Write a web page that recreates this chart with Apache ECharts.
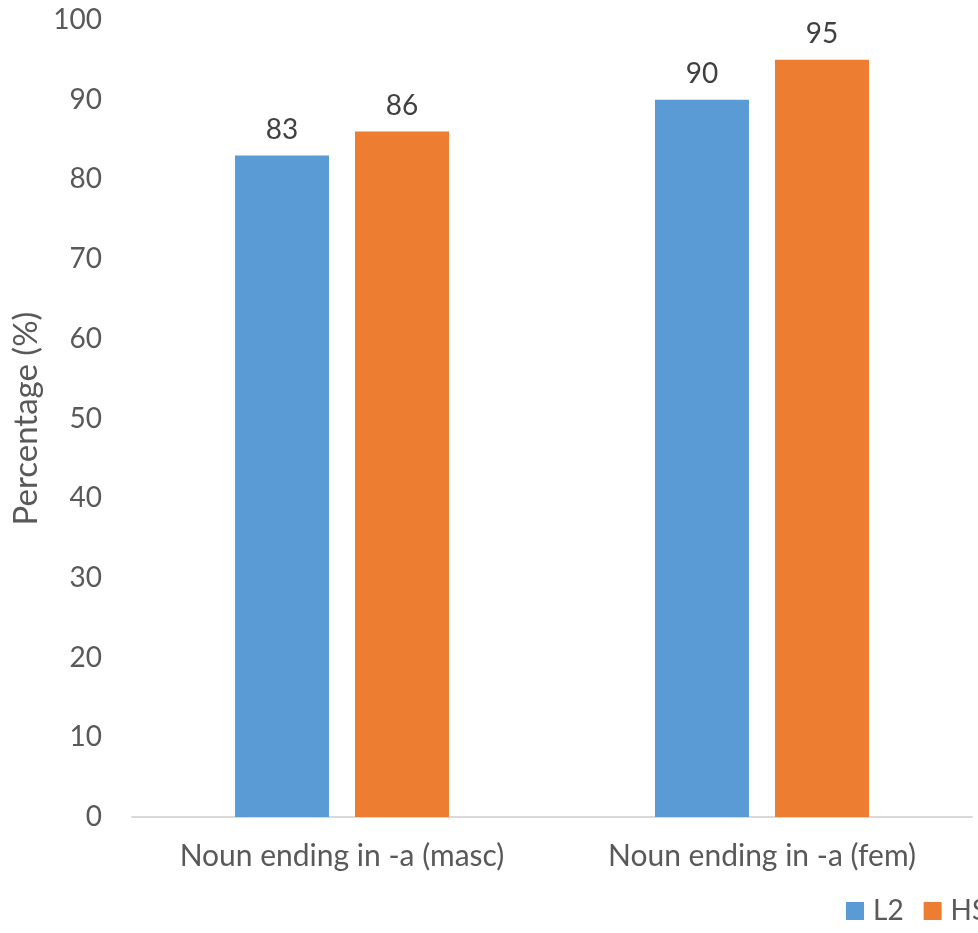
<!DOCTYPE html>
<html>
<head>
<meta charset="utf-8">
<script src="https://cdn.jsdelivr.net/npm/echarts@6/dist/echarts.min.js"></script>
<style>html,body{margin:0;padding:0;background:#fff}#c{width:978px;height:933px}</style>
</head>
<body>
<div id="c"></div>
<script>
var categories = ["Noun ending in -a (masc)", "Noun ending in -a (fem)"];
var seriesNames = ["L2", "HS"];
var l2Values = [83, 90];
var hsValues = [86, 95];
var yTicks = [0, 10, 20, 30, 40, 50, 60, 70, 80, 90, 100];

var FONT = "Lato";
var TXT = "#595959";
var FS = 28;
var chart = echarts.init(document.getElementById('c'));
chart.setOption({
  animation: false,
  textStyle: {fontFamily: FONT},
  grid: {left: 132, right: 6, top: 20, bottom: 116, containLabel: false},
  legend: {
    data: seriesNames, left: 846, top: 897, width: 400, itemWidth: 18, itemHeight: 18, itemGap: 20,
    icon: 'rect', padding: 0,
    textStyle: {color: TXT, fontSize: FS, fontFamily: FONT, padding: [0, 0, 0, 4]}
  },
  xAxis: {
    type: 'category', data: categories,
    axisLine: {lineStyle: {color: '#D9D9D9', width: 2}},
    axisTick: {show: false},
    axisLabel: {color: TXT, fontSize: 30, margin: 24, interval: 0, hideOverlap: false}
  },
  yAxis: {
    type: 'value', min: yTicks[0], max: yTicks[yTicks.length-1], interval: 10,
    name: 'Percentage (%)', nameLocation: 'middle', nameGap: 86,
    nameTextStyle: {color: TXT, fontSize: 33},
    axisLine: {show: false}, axisTick: {show: false},
    splitLine: {show: false},
    axisLabel: {color: TXT, fontSize: FS, margin: 30}
  },
  series: [
    {name: seriesNames[0], type: 'bar', data: l2Values, barWidth: 94, barGap: '27.7%',
     itemStyle: {color: '#5B9BD5'},
     label: {show: true, position: 'top', color: '#404040', fontSize: FS, distance: 12}},
    {name: seriesNames[1], type: 'bar', data: hsValues, barWidth: 94,
     itemStyle: {color: '#ED7D31'},
     label: {show: true, position: 'top', color: '#404040', fontSize: FS, distance: 12}}
  ]
});
</script>
</body>
</html>
